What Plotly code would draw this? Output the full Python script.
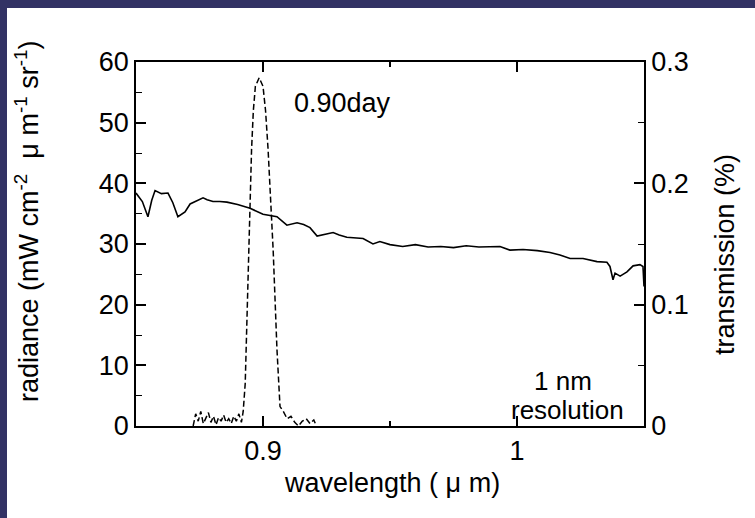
import plotly.graph_objects as go

# radiance (solid, left axis)
rad_wl = [0.850, 0.8525, 0.8547, 0.8562, 0.8575, 0.860, 0.8626, 0.8645, 0.8665, 0.8680, 0.8693,
          0.8713, 0.8740, 0.8764, 0.8780, 0.8803, 0.8830, 0.8858, 0.8900, 0.8949, 0.9000,
          0.9055, 0.9094, 0.9134, 0.9160, 0.9185, 0.9213, 0.9250, 0.9276, 0.9300, 0.9330,
          0.9394, 0.9433, 0.9460, 0.9500, 0.9550, 0.9600, 0.9650, 0.9700, 0.9750, 0.9800,
          0.9850, 0.9900, 0.9933, 0.9972, 1.0024, 1.0080, 1.0130, 1.0169, 1.0209, 1.0260,
          1.0315, 1.0354, 1.0366, 1.0378, 1.0386, 1.0406, 1.0433, 1.0457, 1.0484, 1.0496, 1.0500]
rad_val = [38.4, 37.0, 34.5, 37.2, 38.8, 38.3, 38.4, 36.8, 34.5, 34.9, 35.3,
           36.6, 37.1, 37.6, 37.3, 37.0, 37.0, 36.9, 36.5, 35.9, 34.9,
           34.5, 33.1, 33.5, 33.2, 32.7, 31.3, 31.6, 31.9, 31.5, 31.1,
           30.9, 30.0, 30.4, 29.9, 29.6, 29.9, 29.5, 29.6, 29.4, 29.7,
           29.5, 29.6, 29.6, 29.0, 29.1, 28.9, 28.6, 28.2, 27.6, 27.6,
           27.1, 27.0, 26.3, 24.1, 25.2, 24.7, 25.4, 26.4, 26.6, 26.3, 23.0]

# transmission (dashed, right axis)
tr_wl = [0.8725, 0.8735, 0.8745, 0.8755, 0.8765, 0.8775, 0.8785, 0.8795, 0.8805, 0.8815,
         0.8825, 0.8835, 0.8845, 0.8855, 0.8865, 0.8875, 0.8885, 0.8895, 0.8905, 0.8915,
         0.8922, 0.8930, 0.8940, 0.8950, 0.8955, 0.8962, 0.8970, 0.8985, 0.9000, 0.9010,
         0.9020, 0.9040, 0.9055, 0.9067, 0.9080, 0.9095, 0.9110, 0.9125, 0.9140, 0.9155,
         0.9170, 0.9185, 0.9200, 0.9210]
tr_val = [0.000, 0.010, 0.004, 0.012, 0.002, 0.006, 0.011, 0.003, 0.008, 0.001,
          0.007, 0.004, 0.009, 0.003, 0.006, 0.002, 0.008, 0.004, 0.010, 0.003,
          0.012, 0.035, 0.118, 0.178, 0.228, 0.260, 0.280, 0.287, 0.280, 0.260,
          0.228, 0.145, 0.063, 0.016, 0.012, 0.006, 0.008, 0.003, 0.000, 0.004,
          0.006, 0.002, 0.005, 0.000]

x_ticks = [0.9, 1.0]
x_tick_text = ["0.9", "1"]
left_ticks = [0, 10, 20, 30, 40, 50, 60]
right_ticks = [0, 0.1, 0.2, 0.3]
right_tick_text = ["0", "0.1", "0.2", "0.3"]

FONT = "Liberation Sans, Arial, sans-serif"
FS = 27
NAVY = "#323264"

fig = go.Figure()
fig.add_trace(go.Scatter(x=rad_wl, y=rad_val, mode="lines",
                         line=dict(color="black", width=1.6), showlegend=False))
fig.add_trace(go.Scatter(x=tr_wl, y=tr_val, mode="lines", yaxis="y2",
                         line=dict(color="black", width=1.5, dash="6px,3px"), showlegend=False))

fig.update_layout(
    width=755, height=518,
    margin=dict(l=136, r=111, t=62, b=92),
    paper_bgcolor="white", plot_bgcolor="white",
    font=dict(family=FONT, size=FS, color="black"),
    xaxis=dict(range=[0.85, 1.05], tickvals=x_ticks, ticktext=x_tick_text,
               ticks="inside", ticklen=10, tickwidth=1.5, tickcolor="black",
               showline=True, linecolor="black", linewidth=1.5, mirror="ticks",
               showgrid=False, zeroline=False, tickfont=dict(size=FS),
               minor=dict(tickvals=[0.95], ticks="inside", ticklen=5, tickwidth=1.5, tickcolor="black")),
    yaxis=dict(range=[0, 60], tickvals=left_ticks,
               ticks="inside", ticklen=10, tickwidth=1.5, tickcolor="black",
               showline=True, linecolor="black", linewidth=1.5,
               showgrid=False, zeroline=False, tickfont=dict(size=FS),
               minor=dict(dtick=5, ticks="inside", ticklen=6, tickwidth=1.2, tickcolor="black")),
    yaxis2=dict(range=[0, 0.3], tickvals=right_ticks, ticktext=right_tick_text,
                overlaying="y", side="right",
                ticks="inside", ticklen=10, tickwidth=1.5, tickcolor="black",
                showline=True, linecolor="black", linewidth=1.5,
                showgrid=False, zeroline=False, tickfont=dict(size=FS),
                minor=dict(dtick=0.05, ticks="inside", ticklen=6, tickwidth=1.2, tickcolor="black")),
    shapes=[
        dict(type="rect", xref="paper", yref="paper", x0=-136/508, x1=-129/508, y0=-92/364, y1=1 + 62/364,
             fillcolor=NAVY, line=dict(width=0), layer="above"),
        dict(type="rect", xref="paper", yref="paper", x0=-136/508, x1=1 + 111/508, y0=1 + 54/364, y1=1 + 62/364,
             fillcolor=NAVY, line=dict(width=0), layer="above"),
    ],
    annotations=[
        dict(text="wavelength ( μ m)", xref="paper", yref="paper", x=(392 - 136) / 508, y=-(483 - 426) / 364,
             showarrow=False, xanchor="center", yanchor="middle", font=dict(size=FS)),
        dict(text="radiance (mW cm<sup>-2</sup>  μ m<sup>-1</sup> sr<sup>-1</sup>)", xref="paper", yref="paper",
             x=-(136 - 27) / 508, y=(426 - 222) / 364, textangle=-90,
             showarrow=False, xanchor="center", yanchor="middle", font=dict(size=FS)),
        dict(text="transmission (%)", xref="paper", yref="paper", x=(725 - 136) / 508, y=(426 - 255) / 364,
             textangle=-90, showarrow=False, xanchor="center", yanchor="middle", font=dict(size=FS)),
        dict(text="0.90day", xref="paper", yref="paper", x=(342 - 136) / 508, y=(426 - 103) / 364,
             showarrow=False, xanchor="center", yanchor="middle", font=dict(size=FS)),
        dict(text="1 nm", xref="paper", yref="paper", x=(563 - 136) / 508, y=(426 - 381) / 364,
             showarrow=False, xanchor="center", yanchor="middle", font=dict(size=FS - 1)),
        dict(text="resolution", xref="paper", yref="paper", x=(567 - 136) / 508, y=(426 - 410) / 364,
             showarrow=False, xanchor="center", yanchor="middle", font=dict(size=FS - 1)),
    ],
)

fig.write_html("out.html")
